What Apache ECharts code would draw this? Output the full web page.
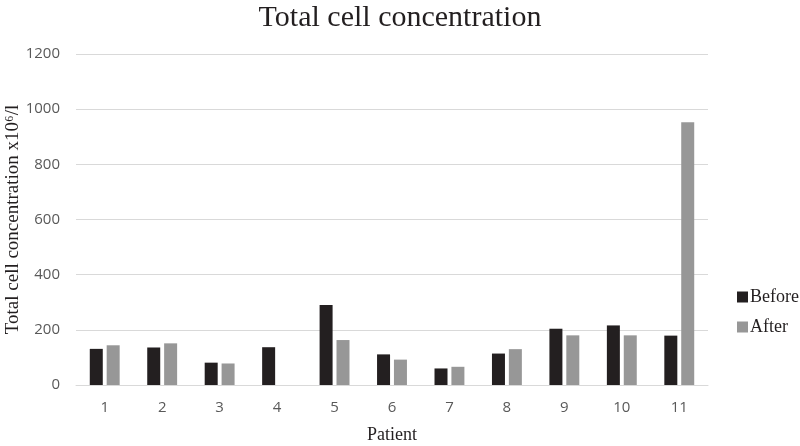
<!DOCTYPE html>
<html><head><meta charset="utf-8">
<script src="https://cdn.jsdelivr.net/npm/echarts@6/dist/echarts.min.js"></script>
<style>html,body{margin:0;padding:0;background:#fff}#c{width:800px;height:446px}</style>
</head><body><div id="c"></div>
<script>
const categories = ['1','2','3','4','5','6','7','8','9','10','11'];
const before = [131, 136, 81, 137, 290, 111, 60, 114, 204, 216, 179];
const after = [144, 151, 78, null, 163, 92, 66, 130, 180, 180, 953];
const yTicks = [0, 200, 400, 600, 800, 1000, 1200];

const chart = echarts.init(document.getElementById('c'), null, {renderer: 'canvas'});
const serif = '"Liberation Serif", "DejaVu Serif", serif';
chart.setOption({
  animation: false,
  backgroundColor: '#fff',
  title: {
    text: 'Total cell concentration',
    left: 'center', top: -2,
    textStyle: {fontFamily: serif, fontSize: 30, fontWeight: 'normal', color: '#231f20'}
  },
  legend: {
    orient: 'vertical', left: 732, top: 283,
    itemWidth: 11, itemHeight: 11, itemGap: 12,
    icon: 'rect',
    textStyle: {fontFamily: serif, fontSize: 18, color: '#231f20', padding: [0,0,0,-3]},
    data: ['Before', 'After']
  },
  grid: {left: 76, right: 92, top: 54, bottom: 61, containLabel: false, outerBoundsMode: 'none'},
  xAxis: {
    type: 'category', data: categories,
    name: 'Patient', nameLocation: 'middle', nameGap: 41, nameMoveOverlap: false,
    nameTextStyle: {fontFamily: serif, fontSize: 18, color: '#231f20'},
    axisLine: {show: true, lineStyle: {color: '#d9d9d9', width: 1}},
    axisTick: {show: false},
    axisLabel: {fontFamily: '"Open Sans", sans-serif', fontSize: 15, color: '#595959', margin: 15}
  },
  yAxis: {
    type: 'value', min: 0, max: 1200, interval: 200,
    name: 'Total cell concentration x10\u2076/l', nameLocation: 'middle', nameGap: 53, nameMoveOverlap: false,
    nameTextStyle: {fontFamily: serif, fontSize: 19, color: '#231f20'},
    axisLine: {show: false}, axisTick: {show: false},
    axisLabel: {fontFamily: '"Open Sans", sans-serif', fontSize: 15, color: '#595959', margin: 16,
      formatter: v => yTicks.includes(v) ? String(v) : ''},
    splitLine: {lineStyle: {color: '#d9d9d9', width: 1}}
  },
  series: [
    {name: 'Before', type: 'bar', data: before, barWidth: 13, barGap: '30%',
     itemStyle: {color: '#231f20'}},
    {name: 'After', type: 'bar', data: after, barWidth: 13, barGap: '30%',
     itemStyle: {color: '#979797'}}
  ]
});
</script></body></html>
